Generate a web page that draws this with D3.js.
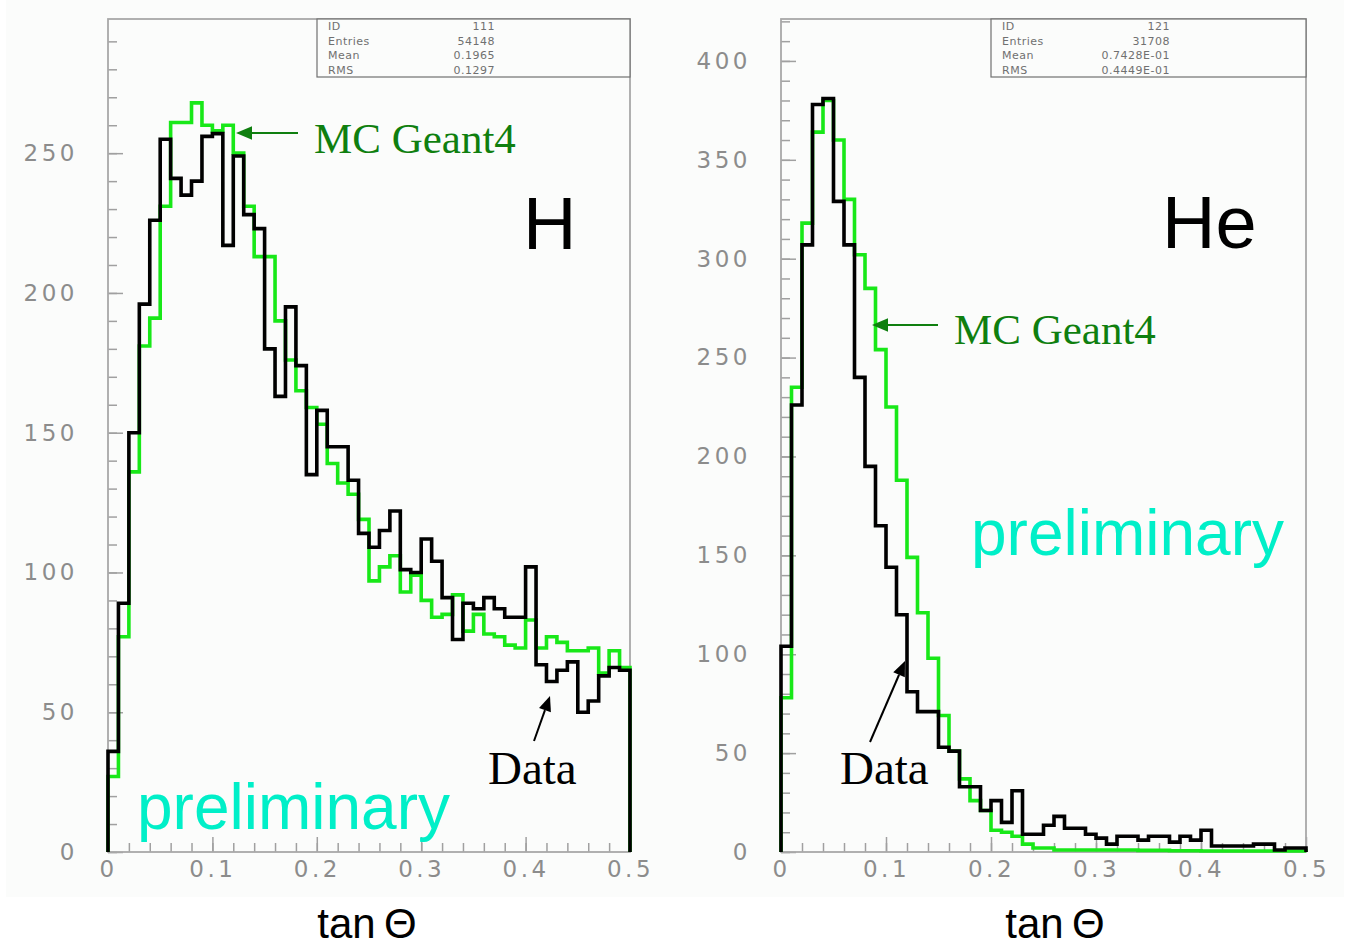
<!DOCTYPE html>
<html lang="en">
<head>
<meta charset="UTF-8">
<title>tan theta : H and He, data vs MC Geant4</title>
<script src="https://cdn.jsdelivr.net/npm/d3@7"></script>
<style>
  body { margin: 0; background: #fff; }
  svg { display: block; }
  .tick text { font-family: "DejaVu Sans", sans-serif; fill: #8c8c8c; }
  .stat { font-family: "DejaVu Sans", sans-serif; font-size: 11px; fill: #707070; letter-spacing: 0.5px; }
</style>
</head>
<body>
<svg id="chart" width="1351" height="946"></svg>
<script>
// 50 bins of 0.01 in tan(theta)
var binEdges = d3.range(0, 51).map(function(i){ return i / 100; });

var xTickValues = [0, 0.1, 0.2, 0.3, 0.4, 0.5];
var xTickLabels = ["0", "0.1", "0.2", "0.3", "0.4", "0.5"];
var hYTicks = [0, 50, 100, 150, 200, 250];
var heYTicks = [0, 50, 100, 150, 200, 250, 300, 350, 400];

// H
var hData = [36, 89, 150, 196, 226, 255, 241, 235, 240, 256,
             257, 217, 249, 228, 223, 180, 163, 195, 174, 135,
             158, 145, 145, 133, 114, 109, 115, 122, 101, 100,
             112, 104, 91, 76, 89, 87, 91, 87, 84, 84,
             102, 67, 61, 65, 68, 50, 54, 63, 66, 65];
var hMC = [27, 77, 136, 181, 191, 231, 261, 261, 268, 260,
           258, 260, 250, 231, 213, 213, 190, 176, 165, 159,
           153, 139, 132, 128, 119, 97, 102, 106, 93, 99,
           90, 84, 85, 92, 79, 85, 78, 77, 74, 73,
           83, 73, 77, 75, 72, 72, 73, 64, 72, 66];

// He
var heData = [104, 226, 307, 378, 381, 329, 307, 240, 195, 165,
              144, 120, 81, 71, 71, 53, 51, 33, 33, 21,
              26, 15, 31, 9, 9, 13.5, 18, 12, 12, 9,
              7, 4, 8, 8, 6, 8, 8, 5, 8, 6,
              11, 3, 3, 3, 3, 4, 4, 1, 2, 2];
var heMC = [78, 235, 318, 364, 380, 360, 330, 302, 285, 254,
            225, 188, 149, 121, 98, 69, 51, 37, 26, 21,
            11, 10, 8, 4, 2, 2, 1, 1, 1, 1,
            1, 1, 1, 1, 0.8, 0.8, 0.8, 0.6, 0.6, 0.6,
            0.5, 0.5, 0.5, 0.5, 0.5, 0.5, 0.5, 0.5, 0.5, 0.5];

var statLabels = ["ID", "Entries", "Mean", "RMS"];
var hStats = ["111", "54148", "0.1965", "0.1297"];
var heStats = ["121", "31708", "0.7428E-01", "0.4449E-01"];

var svg = d3.select("#chart");

// faint plot background
svg.append("rect").attr("x", 6).attr("y", 0).attr("width", 1338).attr("height", 897)
  .attr("fill", "#fbfcfb");

var panels = [
  { left: 108, right: 630, yMax: 298, yTicks: hYTicks, data: hData, mc: hMC, stats: hStats, statLeft: 317, statValX: 495 },
  { left: 781, right: 1306, yMax: 421.2, yTicks: heYTicks, data: heData, mc: heMC, stats: heStats, statLeft: 991, statValX: 1170 }
];

var TOP = 19, BOTTOM = 852;

function stepPath(x, y, vals) {
  var pts = [[0, 0]];
  vals.forEach(function(v, i){ pts.push([binEdges[i], v]); });
  pts.push([0.5, 0]);
  return d3.line()
    .x(function(d){ return x(d[0]); })
    .y(function(d){ return y(d[1]); })
    .curve(d3.curveStepAfter)(pts);
}

function drawPanel(p) {
  var x = d3.scaleLinear().domain([0, 0.5]).range([p.left, p.right]);
  var y = d3.scaleLinear().domain([0, p.yMax]).range([BOTTOM, TOP]);
  var g = svg.append("g");

  // minor ticks
  var ym = g.append("g").attr("transform", "translate(" + p.left + ",0)")
    .call(d3.axisLeft(y).tickValues(d3.range(0, p.yMax, 10)).tickSize(-9).tickFormat(""));
  var xm = g.append("g").attr("transform", "translate(0," + BOTTOM + ")")
    .call(d3.axisBottom(x).tickValues(d3.range(0, 0.5, 0.02)).tickSize(-9).tickFormat(""));

  // major ticks + labels
  var ya = g.append("g").attr("transform", "translate(" + p.left + ",0)")
    .call(d3.axisLeft(y).tickValues(p.yTicks).tickSize(-15).tickPadding(30));
  var xa = g.append("g").attr("transform", "translate(0," + BOTTOM + ")")
    .call(d3.axisBottom(x).tickValues(xTickValues).tickSize(-15).tickPadding(9)
      .tickFormat(function(d, i){ return xTickLabels[i]; }));

  [ym, xm, ya, xa].forEach(function(a){
    a.select(".domain").remove();
    a.selectAll("line").attr("stroke", "#a0a0a0").attr("stroke-width", 1.5);
  });
  [ya, xa].forEach(function(a){
    a.selectAll("text").attr("font-size", 23).attr("letter-spacing", 3.5);
  });

  // frame
  g.append("rect")
    .attr("x", p.left).attr("y", TOP)
    .attr("width", p.right - p.left).attr("height", BOTTOM - TOP)
    .attr("fill", "none").attr("stroke", "#a8a8a8").attr("stroke-width", 1.8);

  // histograms: MC below, data on top
  g.append("path").attr("d", stepPath(x, y, p.mc))
    .attr("fill", "none").attr("stroke", "#18e818").attr("stroke-width", 3.6);
  g.append("path").attr("d", stepPath(x, y, p.data))
    .attr("fill", "none").attr("stroke", "#000").attr("stroke-width", 3.6);

  // stats box
  g.append("rect").attr("x", p.statLeft).attr("y", TOP)
    .attr("width", p.right - p.statLeft).attr("height", 58)
    .attr("fill", "#fbfcfb").attr("stroke", "#707070").attr("stroke-width", 1.2);
  statLabels.forEach(function(l, i){
    var yy = 30 + i * 14.7;
    g.append("text").attr("class", "stat").attr("x", p.statLeft + 11).attr("y", yy).text(l);
    g.append("text").attr("class", "stat").attr("x", p.statValX).attr("y", yy)
      .attr("text-anchor", "end").text(p.stats[i]);
  });
  return { x: x, y: y };
}

panels.forEach(drawPanel);

function arrow(x1, y1, x2, y2, color, w, head) {
  var ang = Math.atan2(y2 - y1, x2 - x1);
  var bx = x2 - head * Math.cos(ang), by = y2 - head * Math.sin(ang);
  svg.append("line").attr("x1", x1).attr("y1", y1).attr("x2", bx).attr("y2", by)
    .attr("stroke", color).attr("stroke-width", w);
  var hw = head * 0.42;
  var px = -Math.sin(ang) * hw, py = Math.cos(ang) * hw;
  svg.append("path")
    .attr("d", "M" + x2 + "," + y2 + "L" + (bx + px) + "," + (by + py) + "L" + (bx - px) + "," + (by - py) + "Z")
    .attr("fill", color);
}

function label(txt, x, y, size, family, color, anchor) {
  return svg.append("text").attr("x", x).attr("y", y)
    .attr("font-family", family).attr("font-size", size)
    .attr("fill", color).attr("text-anchor", anchor || "start").text(txt);
}

var serif = "'Liberation Serif', 'Times New Roman', serif";
var sans = "'Liberation Sans', Arial, sans-serif";

// H panel annotations
arrow(298, 133, 236, 133, "#0f7f0f", 2, 16);
label("MC Geant4", 314, 153, 43, serif, "#0f7f0f");
label("H", 523, 249, 74, sans, "#000");
arrow(534, 741, 550, 696, "#000", 2, 15);
label("Data", 488, 784, 47, serif, "#000");
label("preliminary", 137, 829, 64, sans, "#00efc8");
label("tan\u2009\u0398", 367, 938, 42, sans, "#000", "middle");

// He panel annotations
arrow(938, 325, 872, 325, "#0f7f0f", 2, 16);
label("MC Geant4", 954, 344, 43, serif, "#0f7f0f");
label("He", 1162, 248, 74, sans, "#000");
arrow(870, 742, 905, 661, "#000", 2, 15);
label("Data", 840, 784, 47, serif, "#000");
label("preliminary", 971, 555, 64, sans, "#00efc8");
label("tan\u2009\u0398", 1055, 938, 42, sans, "#000", "middle");
</script>
</body>
</html>
